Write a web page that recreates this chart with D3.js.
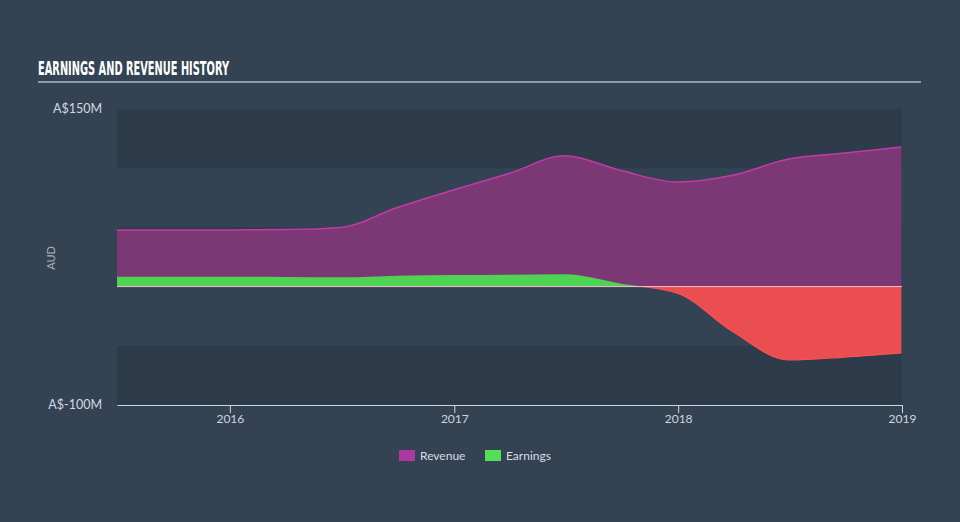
<!DOCTYPE html>
<html>
<head>
<meta charset="utf-8">
<script src="https://cdn.jsdelivr.net/npm/d3@7"></script>
<style>
  html, body { margin: 0; padding: 0; background: #344354; }
  svg { display: block; }
</style>
</head>
<body>
<svg id="chart" width="960" height="522"></svg>
<script>
// ---- data ----
const dates = ["2015-07-01","2015-12-31","2016-03-31","2016-06-30","2016-09-30","2016-12-31",
               "2017-03-31","2017-06-30","2017-09-30","2017-12-31","2018-03-31","2018-06-30",
               "2018-09-30","2018-12-31"];
const revenue  = [47.8, 47.9, 48.2, 50.0, 66.8, 81.6, 95.5, 110.6, 98.0, 88.3, 94.0, 107.8, 112.8, 117.9];
const earnings = [8.4, 8.4, 8.2, 7.8, 9.2, 9.8, 10.1, 10.4, 2.5, -5.5, -38.0, -62.0, -59.5, -56.0];
const yTickValues = [150, -100];
const yTickLabels = ["A$150M", "A$-100M"];
const xTickYears = [2016, 2017, 2018, 2019];
const bandEdges = [[150, 100], [50, 0], [-50, -100]];
const seriesNames = ["Revenue", "Earnings"];
const title = "EARNINGS AND REVENUE HISTORY";

// ---- setup ----
const parse = d3.timeParse("%Y-%m-%d");
const rows = dates.map((d, i) => ({ date: parse(d), rev: revenue[i], earn: earnings[i] }));

const svg = d3.select("#chart");
const W = 960, H = 522;
const pLeft = 117, pRight = 902, pTop = 109, pBottom = 405;

svg.append("rect").attr("width", W).attr("height", H).attr("fill", "#344354");

const x = d3.scaleTime()
  .domain([parse("2015-07-01"), parse("2019-01-01")])
  .range([pLeft, pRight]);
const y = d3.scaleLinear().domain([-100, 150]).range([pBottom, pTop]);

// bands
svg.append("g").selectAll("rect").data(bandEdges).join("rect")
  .attr("x", pLeft).attr("width", pRight - pLeft)
  .attr("y", d => y(d[0])).attr("height", d => y(d[1]) - y(d[0]))
  .attr("fill", "#2e3b4b");

// title
svg.append("text")
  .attr("x", 38).attr("y", 75)
  .attr("fill", "#ffffff")
  .attr("font-family", "'Liberation Sans Narrow', 'DejaVu Sans Condensed', sans-serif")
  .attr("font-weight", "bold")
  .attr("font-size", 19)
  .attr("textLength", 191).attr("lengthAdjust", "spacingAndGlyphs")
  .text(title);
svg.append("line")
  .attr("x1", 38).attr("x2", 921).attr("y1", 82).attr("y2", 82)
  .attr("stroke", "#aeb8c3").attr("stroke-width", 1.5);

const curve = d3.curveMonotoneX;

// revenue
const revArea = d3.area().curve(curve).x(d => x(d.date)).y0(y(0)).y1(d => y(d.rev));
const revLine = d3.line().curve(curve).x(d => x(d.date)).y(d => y(d.rev));
svg.append("path").datum(rows).attr("d", revArea).attr("fill", "#7b3875");
svg.append("path").datum(rows).attr("d", revLine).attr("fill", "none")
  .attr("stroke", "#c23aa8").attr("stroke-width", 1.5);

// earnings with clip for positive / negative
const defs = svg.append("defs");
defs.append("clipPath").attr("id", "clipPos").append("rect")
  .attr("x", pLeft).attr("y", pTop - 20).attr("width", pRight - pLeft).attr("height", y(0) - pTop + 20);
defs.append("clipPath").attr("id", "clipNeg").append("rect")
  .attr("x", pLeft).attr("y", y(0)).attr("width", pRight - pLeft).attr("height", pBottom - y(0) + 20);

const earnArea = d3.area().curve(curve).x(d => x(d.date)).y0(y(0)).y1(d => y(d.earn));
const earnLine = d3.line().curve(curve).x(d => x(d.date)).y(d => y(d.earn));
svg.append("path").datum(rows).attr("d", earnArea).attr("fill", "#4fd352").attr("clip-path", "url(#clipPos)");
svg.append("path").datum(rows).attr("d", earnArea).attr("fill", "#ea4e50").attr("clip-path", "url(#clipNeg)");
svg.append("path").datum(rows).attr("d", earnLine).attr("fill", "none")
  .attr("stroke", "#ff4f55").attr("stroke-width", 1.2).attr("clip-path", "url(#clipNeg)");

// zero line
svg.append("line")
  .attr("x1", pLeft).attr("x2", pRight).attr("y1", y(0)).attr("y2", y(0))
  .attr("stroke", "#f3c0cf").attr("stroke-width", 1);

// x axis
const xAxis = d3.axisBottom(x)
  .tickValues(xTickYears.map(yr => new Date(yr, 0, 1)))
  .tickFormat(d3.timeFormat("%Y"))
  .tickSize(8).tickSizeOuter(0);
const gx = svg.append("g").attr("transform", `translate(0,${pBottom})`).call(xAxis);
gx.select(".domain").attr("stroke", "#cfd7e1");
gx.selectAll(".tick line").attr("stroke", "#cfd7e1");
gx.selectAll(".tick text")
  .attr("fill", "#cfd6de").attr("font-family", "Lato, sans-serif").attr("font-size", 12)
  .attr("dy", "0.55em");

// y labels
svg.append("g").selectAll("text").data(yTickValues).join("text")
  .attr("x", 102).attr("y", d => y(d) + 4)
  .attr("text-anchor", "end")
  .attr("fill", "#d3d9e0").attr("font-family", "Lato, sans-serif").attr("font-size", 12.5)
  .text((d, i) => yTickLabels[i]);

svg.append("text")
  .attr("transform", `translate(55,258) rotate(-90)`)
  .attr("text-anchor", "middle")
  .attr("fill", "#a7b0ba").attr("font-family", "Lato, sans-serif").attr("font-size", 11)
  .text("AUD");

// legend
const legendColors = ["#ac399e", "#53e057"];
const legendX = [399, 485];
const lg = svg.append("g").selectAll("g").data(seriesNames).join("g")
  .attr("transform", (d, i) => `translate(${legendX[i]},450)`);
lg.append("rect").attr("width", 16).attr("height", 11).attr("fill", (d, i) => legendColors[i]);
lg.append("text").attr("x", 21).attr("y", 10)
  .attr("fill", "#d8dde3").attr("font-family", "Lato, sans-serif").attr("font-size", 12)
  .text(d => d);
</script>
</body>
</html>
